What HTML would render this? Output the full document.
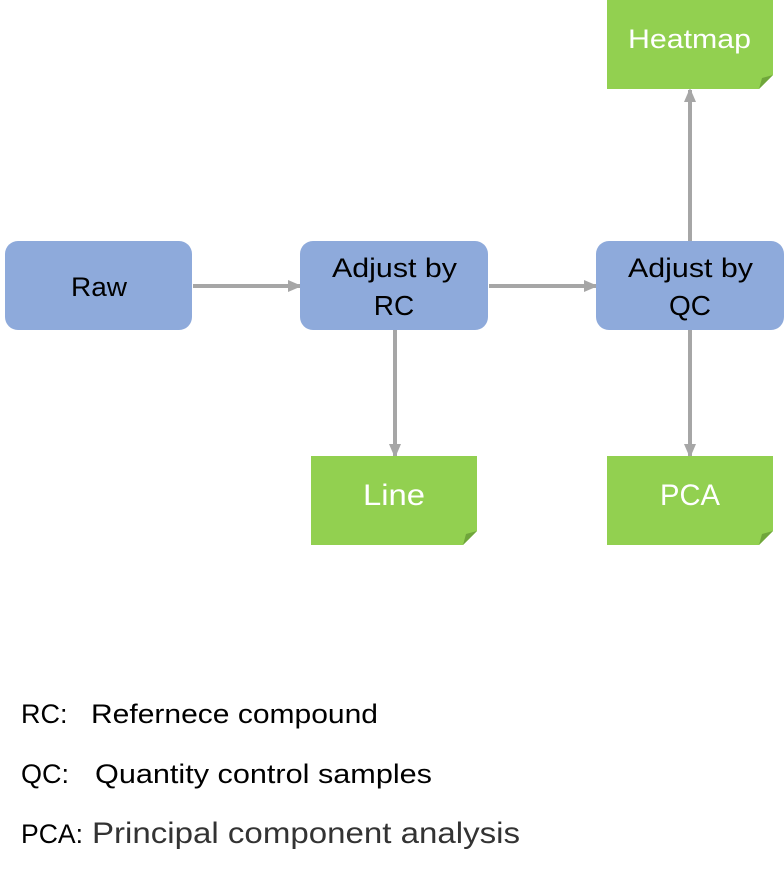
<!DOCTYPE html>
<html><head><meta charset="utf-8"><style>
html,body{margin:0;padding:0;background:#fff}
svg{display:block}
text{font-family:"Liberation Sans","Noto Sans CJK SC",sans-serif}
</style></head><body>
<svg width="784" height="873" viewBox="0 0 784 873" xmlns="http://www.w3.org/2000/svg">
<defs>
<marker id="b" markerWidth="14" markerHeight="14" refX="12" refY="7" orient="auto" markerUnits="userSpaceOnUse"><path d="M0,1 L14,7 L0,13 z" fill="#a6a6a6"/></marker></defs>
<g stroke="#a6a6a6" stroke-width="4" fill="none">
<line x1="193" y1="286" x2="300" y2="286" marker-end="url(#b)"/>
<line x1="489" y1="286" x2="596" y2="286" marker-end="url(#b)"/>
<line x1="690" y1="241" x2="690" y2="90" marker-end="url(#b)"/>
<line x1="395" y1="330" x2="395" y2="456" marker-end="url(#b)"/>
<line x1="690" y1="330" x2="690" y2="456" marker-end="url(#b)"/>
</g>
<g fill="#8eaadb">
<rect x="5" y="241" width="187" height="89" rx="13"/>
<rect x="300" y="241" width="188" height="89" rx="13"/>
<rect x="596" y="241" width="188" height="89" rx="13"/>
</g>
<g font-size="27" fill="#000">
<text x="71" y="296" textLength="56" lengthAdjust="spacingAndGlyphs">Raw</text>
<text x="332" y="277" textLength="125" lengthAdjust="spacingAndGlyphs">Adjust by</text>
<text x="394" y="315" text-anchor="middle" font-size="28">RC</text>
<text x="690" y="315" text-anchor="middle" font-size="28">QC</text>
<text x="628" y="277" textLength="125" lengthAdjust="spacingAndGlyphs">Adjust by</text>
</g>
<g>
<path d="M607,0 H773 V75 L759,89 H607 Z" fill="#92d050"/><path d="M773,75 L759,89 L762,78 Z" fill="#6fa63b"/>
<path d="M311,456 H477 V531 L463,545 H311 Z" fill="#92d050"/><path d="M477,531 L463,545 L466,534 Z" fill="#6fa63b"/>
<path d="M607,456 H773 V531 L759,545 H607 Z" fill="#92d050"/><path d="M773,531 L759,545 L762,534 Z" fill="#6fa63b"/>
</g>
<g fill="#fff">
<text x="628" y="48" font-size="27" textLength="123" lengthAdjust="spacingAndGlyphs">Heatmap</text>
<text x="363" y="505" font-size="30" textLength="62" lengthAdjust="spacingAndGlyphs">Line</text>
<text x="660" y="505" font-size="30" textLength="60" lengthAdjust="spacingAndGlyphs">PCA</text>
</g>
<g font-size="27" fill="#000">
<text x="21" y="723">RC:</text>
<text x="91" y="723" textLength="287" lengthAdjust="spacingAndGlyphs">Refernece compound</text>
<text x="21" y="783">QC:</text>
<text x="95" y="783" textLength="337" lengthAdjust="spacingAndGlyphs">Quantity control samples</text>
<text x="21" y="843" textLength="62" lengthAdjust="spacingAndGlyphs">PCA:</text>
<text x="92" y="843" font-size="30" fill="#333" textLength="428" lengthAdjust="spacingAndGlyphs">Principal component analysis</text>
</g>
</svg>
</body></html>
